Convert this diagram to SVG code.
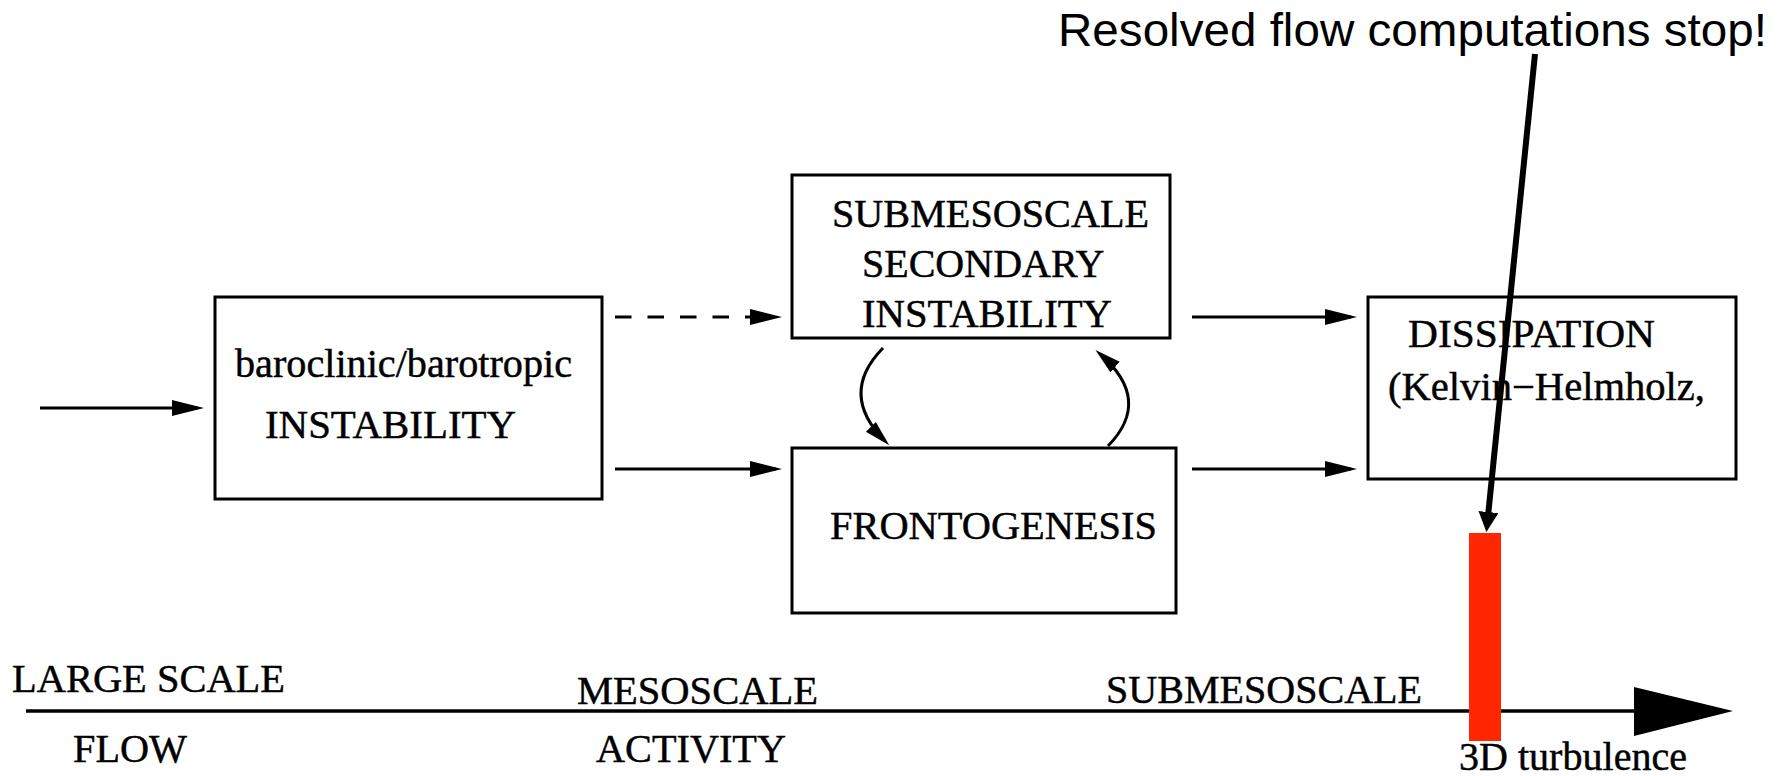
<svg xmlns="http://www.w3.org/2000/svg" width="1790" height="776" viewBox="0 0 1790 776">
<style>
.box{fill:#fff;stroke:#000;stroke-width:3}
.t{font-family:"Liberation Serif","Times New Roman",serif;font-size:40px;fill:#000;stroke:#000;stroke-width:0.45}
.title{font-family:"Liberation Sans",Arial,sans-serif;font-size:46.5px;fill:#000}
.c{fill:none;stroke:#000;stroke-width:3}
</style>
<defs>
<marker id="ah" markerUnits="userSpaceOnUse" markerWidth="32" markerHeight="16" refX="26" refY="8" orient="auto">
<path d="M0,0 L32,8 L0,16 z" fill="#000"/>
</marker>
<marker id="ahc" markerUnits="userSpaceOnUse" markerWidth="26" markerHeight="16" refX="20" refY="8" orient="auto">
<path d="M0,1 L26,8 L0,15 z" fill="#000"/>
</marker>
<marker id="ahb" markerUnits="userSpaceOnUse" markerWidth="22" markerHeight="22" refX="14" refY="10" orient="auto">
<path d="M0,0 L20,10 L0,20 z" fill="#000"/>
</marker>
</defs>
<rect width="1790" height="776" fill="#fff"/>

<g id="node-instability">
<rect class="box" x="215" y="297" width="387" height="202"/>
<text class="t" x="235" y="377" textLength="337" lengthAdjust="spacingAndGlyphs">baroclinic/barotropic</text>
<text class="t" x="265" y="438" textLength="251" lengthAdjust="spacingAndGlyphs">INSTABILITY</text>
</g>

<g id="node-secondary">
<rect class="box" x="792" y="175" width="378" height="163"/>
<text class="t" x="832" y="227" textLength="317" lengthAdjust="spacingAndGlyphs">SUBMESOSCALE</text>
<text class="t" x="862" y="277">SECONDARY</text>
<text class="t" x="862" y="327" textLength="250" lengthAdjust="spacingAndGlyphs">INSTABILITY</text>
</g>

<g id="node-frontogenesis">
<rect class="box" x="792" y="448" width="384" height="165"/>
<text class="t" x="830" y="539" textLength="327" lengthAdjust="spacingAndGlyphs">FRONTOGENESIS</text>
</g>

<g id="node-dissipation">
<rect class="box" x="1368" y="297" width="368" height="182"/>
<text class="t" x="1408" y="347" textLength="247" lengthAdjust="spacingAndGlyphs">DISSIPATION</text>
<text class="t" x="1388" y="400" textLength="317" lengthAdjust="spacingAndGlyphs">(Kelvin−Helmholz,</text>
</g>

<g id="axis">
<line x1="26" y1="711" x2="1640" y2="711" stroke="#000" stroke-width="3.5"/>
<polygon points="1634,687 1733,711 1634,736" fill="#000"/>
<text class="t" x="12" y="692" textLength="273" lengthAdjust="spacingAndGlyphs">LARGE SCALE</text>
<text class="t" x="73" y="762" textLength="114" lengthAdjust="spacingAndGlyphs">FLOW</text>
<text class="t" x="577" y="704" textLength="241" lengthAdjust="spacingAndGlyphs">MESOSCALE</text>
<text class="t" x="596" y="762" textLength="190" lengthAdjust="spacingAndGlyphs">ACTIVITY</text>
<text class="t" x="1106" y="703" textLength="316" lengthAdjust="spacingAndGlyphs">SUBMESOSCALE</text>
<text class="t" x="1459" y="770" textLength="228" lengthAdjust="spacingAndGlyphs">3D turbulence</text>
</g>

<g id="marker-3d">
<rect x="1469" y="533" width="32" height="208" fill="#FF2600"/>
</g>

<g id="title">
<text class="title" x="1058" y="46" textLength="709" lengthAdjust="spacingAndGlyphs">Resolved flow computations stop!</text>
</g>

<g id="connectors">
<line class="c" x1="40" y1="408" x2="198" y2="408" marker-end="url(#ah)"/>
<line class="c" x1="615" y1="317" x2="776" y2="317" stroke-dasharray="16.5 16" marker-end="url(#ah)"/>
<line class="c" x1="615" y1="469" x2="776" y2="469" marker-end="url(#ah)"/>
<line class="c" x1="1192" y1="317" x2="1351" y2="317" marker-end="url(#ah)"/>
<line class="c" x1="1192" y1="469" x2="1351" y2="469" marker-end="url(#ah)"/>
<path class="c" d="M883,348 Q838,394 885,441" marker-end="url(#ahc)"/>
<path class="c" d="M1108,446 Q1153,400 1100,354" marker-end="url(#ahc)"/>
<line x1="1535" y1="54" x2="1487" y2="526" stroke="#000" stroke-width="6" marker-end="url(#ahb)"/>
</g>
</svg>
